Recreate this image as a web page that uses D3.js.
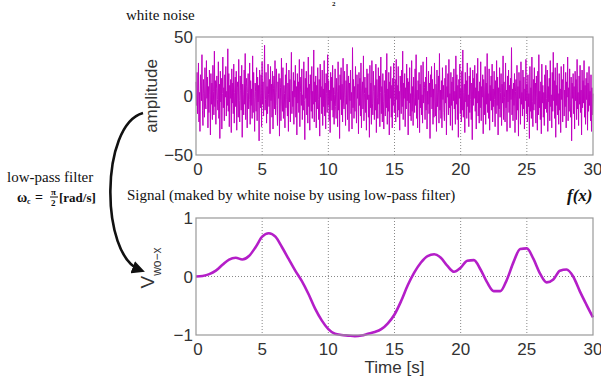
<!DOCTYPE html>
<html>
<head>
<meta charset="utf-8">
<script src="https://cdn.jsdelivr.net/npm/d3@7"></script>
<style>
  body { margin: 0; background: #fff; }
  svg { display: block; }
  .tick-label { font-family: "Liberation Sans", Arial, sans-serif; font-size: 17px; fill: #333; }
  .serif { font-family: "Liberation Serif", "Times New Roman", serif; fill: #111; }
</style>
</head>
<body>
<svg id="chart" width="601" height="378"></svg>
<script>
// white noise amplitude (0..30 s)
const noise = [
  12,-8,20,-15,5,28,-22,3,-30,18,9,-4,35,-12,-25,14,2,-18,24,-6,
  -11,30,-2,16,-27,8,-14,22,1,-33,19,-7,11,-20,26,4,-16,38,-9,13,
  -24,6,17,-3,-12,29,-19,10,-36,21,-5,15,-28,2,33,-10,7,-21,18,-1,
  25,-17,4,-8,40,-13,19,-26,9,-2,14,-31,23,-6,11,-15,27,-23,3,16,
  -9,21,-29,7,12,-18,31,-4,-22,17,5,-12,26,-35,10,1,-16,22,-7,36,
  -20,8,15,-27,3,19,-11,-3,28,-24,13,-8,6,-19,34,-14,20,-1,-30,11,
  4,-13,24,-21,16,-5,9,-38,22,2,-10,18,-26,29,-7,12,-17,5,43,-12,
  -3,20,-23,8,-15,27,1,-9,14,-32,25,-4,10,-18,21,-28,6,17,-11,30,
  -16,3,23,-8,-25,12,-2,19,-34,15,7,-21,32,-6,-13,24,-19,9,2,-27,
  18,-10,28,-3,-17,11,-30,22,-5,14,-22,6,37,-15,4,-9,20,-24,13,-1,
  26,-18,8,-33,19,-6,12,-14,31,-26,3,16,-8,23,-20,1,-12,29,-4,-37,
  15,-2,21,-16,7,-23,33,-9,10,-29,18,5,-13,25,-19,4,-7,39,-22,12,
  -5,17,-27,9,-11,24,-3,-20,14,-34,27,-1,8,-15,22,-25,6,-9,30,-17,
  11,-28,19,2,-14,35,-8,13,-21,5,-31,20,-4,16,-12,26,-18,7,-24,1,
  23,-9,-19,15,4,-26,29,-12,9,-36,18,-3,24,-16,10,-22,32,-6,-11,21,
  -1,-25,13,-7,27,-20,6,17,-30,11,-4,22,-15,3,-28,41,-10,14,-19,8,
  -13,25,-5,-23,18,-2,10,-32,20,-8,15,-17,28,-27,5,12,-11,34,-21,2,
  16,-14,7,-29,23,-3,19,-18,1,-35,26,-10,11,-24,30,-6,-16,21,4,-20,
  9,-12,27,-31,14,-1,-19,24,-7,17,-26,3,33,-15,8,-22,19,-5,-28,13,
  2,-17,22,-10,36,-24,6,-13,20,-33,12,-2,25,-18,9,-27,15,-8,28,-14,
  -7,14,-22,31,-3,9,-18,25,-12,4,-29,17,6,-15,22,-9,38,-20,11,-2,
  19,-26,7,-11,27,-4,15,-33,12,-6,24,-17,2,-21,30,-13,8,-25,16,-1,
  -14,23,-8,35,-19,5,-27,13,-3,20,-31,10,-10,26,-16,1,-23,29,-6,12,
  7,-20,16,-12,33,-28,4,-7,21,-15,11,-36,18,-1,25,-11,14,-24,6,-18,
  28,-5,-17,10,-30,22,-9,3,17,-23,36,-12,5,-19,13,-27,24,-3,9,-14,
  -21,15,-6,26,-33,8,-1,19,-16,31,-10,2,-25,20,-8,12,-29,16,-4,23,
  -11,4,-24,34,-7,18,-20,9,-35,14,-2,27,-15,6,-22,21,-12,39,-18,3,
  10,-31,20,-5,13,-19,28,-9,1,-26,17,-14,24,-3,-20,11,-37,22,-8,15,
  -2,26,-13,7,-28,19,-6,32,-17,4,-23,12,-10,29,-21,8,-1,18,-32,14,
  5,-16,25,-24,11,-7,36,-14,2,-19,23,-29,9,-4,17,-12,27,-22,6,-9,
  21,-3,-26,13,-15,30,-8,16,-33,7,-11,24,-18,3,19,-25,10,-6,34,-20,
  12,-1,-22,28,-10,5,-30,17,-5,22,-14,9,-27,15,-3,41,-16,6,-21,11,
  -8,19,-31,4,14,-20,26,-12,8,-34,20,-2,13,-24,29,-7,3,-17,22,-11,
  16,-28,6,-4,31,-15,10,-22,18,-9,2,-36,25,-13,7,-19,33,-5,-26,14,
  -12,24,-7,11,-23,17,-1,-29,21,-16,35,-10,4,-20,12,-32,27,-6,9,-18,
  3,-25,18,-11,26,-2,-14,22,-30,8,-5,15,-21,30,-9,1,-27,20,-13,37,
  -4,13,-19,24,-35,9,-8,28,-16,2,-24,19,-12,6,-31,25,-3,14,-22,10,
  27,-17,5,-9,20,-27,12,-1,33,-21,7,-13,23,-6,-18,16,-38,11,-2,19,
  -15,8,-28,21,-4,14,-20,31,-11,3,-25,17,-7,26,-14,5,-33,22,-10,13,
  -6,30,-18,9,-24,15,-3,20,-29,11,-13,25,-8,4,-21,18,-30,7,-16,2
];

// filtered signal, sampled every 0.5 s
const signalT = d3.range(0, 30.01, 0.5);
const signalV = [
  0.0, 0.01, 0.04, 0.1, 0.2, 0.29, 0.32, 0.29, 0.35, 0.5,
  0.68, 0.74, 0.68, 0.5, 0.3, 0.1, -0.08, -0.3, -0.55, -0.75,
  -0.9, -0.98, -1.0, -1.01, -1.02, -1.01, -0.98, -0.95, -0.9, -0.8,
  -0.65, -0.42, -0.15, 0.07, 0.24, 0.35, 0.38, 0.32, 0.18, 0.08,
  0.15, 0.27, 0.28, 0.12, -0.1, -0.25, -0.25, -0.05, 0.25, 0.47,
  0.48, 0.3, 0.05, -0.1, -0.05, 0.1, 0.12, 0.0, -0.25, -0.48, -0.7
];

const xTicks = [0, 5, 10, 15, 20, 25, 30];
const noiseTicks = [-50, 0, 50];
const signalTicks = [-1, 0, 1];

const svg = d3.select('#chart');
const left = 196, right = 593;

const x = d3.scaleLinear().domain([0, 30]).range([left, right]);
const yNoise = d3.scaleLinear().domain([-50, 50]).range([155, 37]);
const ySig = d3.scaleLinear().domain([-1, 1]).range([335, 218]);

function panel(y, yTicks, hGrid) {
  const g = svg.append('g');
  const [y0, y1] = y.range();
  // dotted grid
  g.selectAll('.vgrid')
    .data(xTicks.slice(1, -1))
    .enter().append('line')
    .attr('x1', d => x(d)).attr('x2', d => x(d))
    .attr('y1', y1).attr('y2', y0)
    .attr('stroke', '#888').attr('stroke-width', 1)
    .attr('stroke-dasharray', '1,2');
  g.selectAll('.hgrid')
    .data(hGrid)
    .enter().append('line')
    .attr('x1', left).attr('x2', right)
    .attr('y1', d => y(d)).attr('y2', d => y(d))
    .attr('stroke', '#888').attr('stroke-width', 1)
    .attr('stroke-dasharray', '1,2');
  // tick labels
  g.selectAll('.xl')
    .data(xTicks)
    .enter().append('text')
    .attr('class', 'tick-label')
    .attr('x', d => x(d) + (d === 0 ? 2 : 0))
    .attr('y', y0 + 20)
    .attr('text-anchor', 'middle')
    .text(d => d);
  g.selectAll('.yl')
    .data(yTicks)
    .enter().append('text')
    .attr('class', 'tick-label')
    .attr('x', left - 3)
    .attr('y', d => y(d) + 6)
    .attr('text-anchor', 'end')
    .text(d => d < 0 ? '\u2212' + Math.abs(d) : d);
  return g;
}

const noisePanel = panel(yNoise, noiseTicks, []);
const signalPanel = panel(ySig, signalTicks, [0]);

// noise trace
const noiseLine = d3.line()
  .x((d, i) => x(i * 30 / (noise.length - 1)))
  .y(d => yNoise(d));
noisePanel.append('path')
  .datum(noise)
  .attr('fill', 'none')
  .attr('stroke', '#c000c0')
  .attr('stroke-width', 1)
  .attr('d', noiseLine);

// filtered signal
const sigLine = d3.line()
  .x((d, i) => x(signalT[i]))
  .y(d => ySig(d))
  .curve(d3.curveMonotoneX);
signalPanel.append('path')
  .datum(signalV)
  .attr('fill', 'none')
  .attr('stroke', '#b41ec8')
  .attr('stroke-width', 2.6)
  .attr('d', sigLine);

// frames
[yNoise, ySig].forEach(y => {
  const [y0, y1] = y.range();
  svg.append('rect')
    .attr('x', left).attr('y', y1)
    .attr('width', right - left).attr('height', y0 - y1)
    .attr('fill', 'none').attr('stroke', '#999').attr('stroke-width', 1.2);
});

// axis titles
svg.append('text')
  .attr('class', 'tick-label')
  .attr('transform', 'translate(157,96) rotate(-90)')
  .attr('text-anchor', 'middle')
  .text('amplitude');

const vlab = svg.append('text')
  .attr('class', 'tick-label')
  .attr('transform', 'translate(154,268) rotate(-90)')
  .attr('text-anchor', 'middle');
vlab.append('tspan').attr('font-size', 19).text('V');
vlab.append('tspan').attr('font-size', 12).attr('dy', 7).text('wo\u2212x');

svg.append('text')
  .attr('class', 'tick-label')
  .attr('x', (left + right) / 2).attr('y', 373)
  .attr('text-anchor', 'middle')
  .text('Time [s]');

// captions
svg.append('text').attr('class', 'serif')
  .attr('x', 126).attr('y', 20).attr('font-size', 15)
  .text('white noise');
svg.append('text').attr('class', 'serif')
  .attr('x', 127).attr('y', 200).attr('font-size', 15)
  .text('Signal (maked by white noise by using low-pass filter)');
svg.append('text').attr('class', 'serif')
  .attr('x', 7).attr('y', 182).attr('font-size', 15)
  .text('low-pass filter');
svg.append('text').attr('class', 'serif')
  .attr('x', 567).attr('y', 201).attr('font-size', 17)
  .attr('font-weight', 'bold').attr('font-style', 'italic')
  .text('f(x)');

// fragment of a formula cropped at the top edge
svg.append('text').attr('class', 'serif')
  .attr('x', 332).attr('y', 6).attr('font-size', 7).attr('font-weight', 'bold')
  .text('2');

// cutoff formula: ωc = π/2 [rad/s]
const f = svg.append('g').attr('class', 'serif').attr('font-weight', 'bold');
f.append('text').attr('x', 17).attr('y', 202).attr('font-size', 14).text('\u03c9');
f.append('text').attr('x', 27).attr('y', 204).attr('font-size', 8).text('c');
f.append('text').attr('x', 35).attr('y', 202).attr('font-size', 14).text('=');
f.append('text').attr('x', 51).attr('y', 195).attr('font-size', 9).text('\u03c0');
f.append('line').attr('x1', 50).attr('x2', 58).attr('y1', 197).attr('y2', 197)
  .attr('stroke', '#111').attr('stroke-width', 1);
f.append('text').attr('x', 51).attr('y', 206).attr('font-size', 9).text('2');
f.append('text').attr('x', 59).attr('y', 202).attr('font-size', 13).text('[rad/s]');

// curved arrow from the noise panel to the signal panel
svg.append('defs').append('marker')
  .attr('id', 'head')
  .attr('viewBox', '0 0 10 10')
  .attr('refX', 6).attr('refY', 5)
  .attr('markerWidth', 5).attr('markerHeight', 5)
  .attr('orient', 'auto')
  .append('path').attr('d', 'M0,0L10,5L0,10z').attr('fill', '#111');
svg.append('path')
  .attr('d', 'M143,113 C100,125 100,255 140,270')
  .attr('fill', 'none')
  .attr('stroke', '#111')
  .attr('stroke-width', 2.6)
  .attr('marker-end', 'url(#head)');
</script>
</body>
</html>
